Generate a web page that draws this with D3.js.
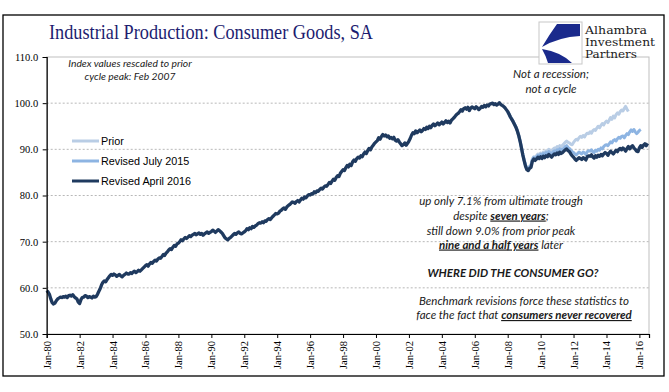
<!DOCTYPE html>
<html><head><meta charset="utf-8">
<script src="https://cdn.jsdelivr.net/npm/d3@7"></script>
<style>
html,body{margin:0;padding:0;background:#fff;}
svg{display:block;}
</style></head>
<body>
<svg id="c" width="669" height="392"></svg>
<script>
// ---------- DATA ----------
const seriesNames = ["Prior", "Revised July 2015", "Revised April 2016"];
const yTicks = [50, 60, 70, 80, 90, 100, 110];
const xTickYears = [1980,1982,1984,1986,1988,1990,1992,1994,1996,1998,2000,2002,2004,2006,2008,2010,2012,2014,2016];

// Revised April 2016, monthly from Jan 1980
const revApr2016Start = [1980, 0];
const revApr2016 = [
 59.4,59.1,58.6,57.6,56.8,56.5,56.7,57.2,57.6,57.8,58.0,57.9,
 58.1,58.0,58.2,57.9,58.3,58.4,58.2,58.5,58.1,57.8,57.6,56.9,
 56.6,57.5,57.9,58.0,58.3,58.2,57.9,58.1,58.0,57.8,58.2,58.0,
 58.1,58.6,59.2,59.8,60.6,61.2,61.5,61.3,61.8,62.2,62.6,62.9,
 62.7,63.0,62.8,62.5,62.7,62.9,62.6,62.4,62.7,62.9,63.2,63.0,
 63.0,63.3,63.1,63.4,63.6,63.3,63.5,63.8,63.6,63.9,64.2,64.5,
 64.8,65.0,64.7,65.2,65.5,65.3,65.7,66.0,65.8,66.2,66.5,66.4,
 66.8,67.2,67.0,67.5,67.8,68.2,68.5,68.3,68.8,69.2,69.0,69.5,
 69.7,70.0,70.4,70.2,70.6,70.9,70.7,71.0,71.3,71.1,71.4,71.6,
 71.8,71.5,71.7,71.9,71.6,71.8,71.4,71.7,71.9,72.1,71.8,72.0,
 72.2,72.5,72.3,72.0,72.3,72.6,72.4,72.1,71.8,71.3,70.8,70.6,
 70.4,70.7,70.9,71.2,71.5,71.8,71.6,71.9,72.1,71.8,71.7,71.9,
 72.1,72.4,72.8,72.6,73.0,72.8,73.3,73.1,73.4,73.6,73.9,74.1,
 74.0,74.3,74.1,74.5,74.4,74.8,75.0,74.8,75.2,75.5,75.8,76.1,
 76.0,76.2,76.6,76.8,77.1,77.3,77.0,77.5,77.8,78.0,78.3,78.6,
 78.5,78.3,78.7,78.9,78.6,79.0,79.4,79.2,79.7,79.5,79.9,80.2,
 80.1,80.4,80.3,80.8,80.6,81.0,80.9,81.3,81.6,81.4,81.8,82.1,
 82.0,82.4,82.8,82.6,83.1,83.5,83.3,83.9,84.3,84.1,84.8,85.2,
 85.6,85.4,86.0,86.5,86.2,86.8,86.5,87.3,87.7,87.4,88.0,88.3,
 88.1,88.6,88.4,89.0,89.4,89.1,89.7,90.2,89.9,90.5,90.9,91.3,
 91.6,91.9,92.5,92.2,92.8,93.2,92.9,93.1,92.7,92.9,92.4,92.6,
 92.3,92.6,92.0,91.8,92.1,91.6,91.2,90.8,91.0,91.4,90.9,91.3,
 91.8,92.4,93.1,93.6,93.4,94.0,93.6,93.9,94.2,93.8,94.1,94.5,
 94.3,94.8,94.5,95.0,94.7,95.2,95.5,95.1,95.4,95.7,95.3,95.6,
 95.9,95.5,95.8,96.2,95.8,96.1,95.7,96.3,96.6,96.9,97.3,97.6,
 97.8,98.2,98.6,98.3,98.8,99.0,98.7,99.1,98.4,98.9,99.2,99.0,
 98.8,99.2,99.0,98.6,98.9,99.3,99.1,99.5,99.2,99.6,99.4,99.8,
 99.9,100.0,99.7,99.9,99.6,99.8,100.1,99.7,99.5,99.3,99.0,98.6,
 98.2,97.6,97.0,96.5,96.0,95.4,94.8,94.0,93.0,91.8,90.3,88.8,
 87.5,86.3,85.6,85.4,85.9,86.1,87.4,87.9,87.6,87.9,88.3,88.0,
 88.4,88.0,88.5,88.2,88.6,88.4,88.9,88.6,88.3,88.7,89.0,88.8,
 89.2,88.9,89.4,89.1,89.3,89.6,89.9,90.1,89.7,89.5,89.0,88.6,
 88.3,87.9,87.6,87.9,88.2,88.0,87.8,88.2,88.0,87.7,88.4,88.6,
 88.5,88.8,88.4,88.1,88.6,88.3,88.7,88.5,88.9,88.6,89.0,89.3,
 89.1,88.7,89.2,89.6,89.3,89.0,89.4,89.8,89.5,90.0,90.2,89.9,
 90.3,90.0,89.6,90.2,90.6,90.1,90.5,90.8,90.3,90.0,89.6,89.5,
 90.3,90.8,90.4,90.9,91.2,90.8,91.3
];

// Revised July 2015, monthly from Jan 2008 (earlier months lie under the dark line)
const revJul2015Start = [2008, 0];
const revJul2015 = [
 98.1,97.6,97.0,96.5,96.0,95.4,94.8,94.0,93.0,91.8,90.4,88.9,
 87.6,86.5,85.8,85.7,86.2,86.4,87.7,88.2,88.0,88.3,88.7,88.5,
 88.9,88.6,89.1,88.8,89.3,89.0,89.5,89.2,89.0,89.4,89.7,89.5,
 89.9,89.6,90.1,89.8,90.0,90.3,90.6,90.8,90.4,90.2,89.8,89.5,
 89.3,89.0,88.8,89.1,89.4,89.2,89.0,89.4,89.2,88.9,89.5,89.7,
 89.6,89.9,89.5,89.3,89.8,89.6,90.0,89.8,90.3,90.1,90.6,90.9,
 91.0,90.8,91.2,91.6,91.4,91.9,92.1,91.8,92.3,92.6,92.4,92.8,
 92.9,92.5,93.0,93.4,93.2,93.8,94.2,93.9,94.3,93.8,93.4,93.7,
 94.1,94.3
];

// Prior, monthly from Jan 2008
const priorStart = [2008, 0];
const prior = [
 98.2,97.7,97.1,96.6,96.1,95.5,94.9,94.2,93.1,91.9,90.5,89.0,
 87.7,86.6,86.0,85.9,86.4,86.7,87.9,88.4,88.3,88.6,89.0,88.8,
 89.2,88.9,89.4,89.2,89.7,89.5,90.0,89.8,89.6,90.0,90.3,90.2,
 90.6,90.3,90.8,90.6,90.9,91.2,91.5,91.8,91.5,91.4,91.1,91.0,
 91.5,91.9,92.2,92.0,92.5,92.8,92.6,93.0,92.7,93.2,93.5,93.4,
 93.8,93.5,94.0,94.3,94.1,94.6,95.0,94.7,95.2,95.6,95.3,95.8,
 96.1,95.8,96.3,96.9,96.5,97.2,96.8,97.5,97.9,97.6,98.2,98.5,
 98.3,98.9,99.3,98.7,98.2
];

// ---------- CHART ----------
const svg = d3.select("#c");
const plot = {left: 46.7, right: 649, top: 57, bottom: 334};

const x = d3.scaleTime()
  .domain([new Date(1980,0,1), new Date(2016,7,1)])
  .range([plot.left, plot.right]);
const y = d3.scaleLinear().domain([50,110]).range([plot.bottom, plot.top]);

const toPts = (vals, start) => vals.map((v,i)=>({d:new Date(start[0], start[1]+i, 1), v}));

// outer frame
svg.append("rect").attr("x",3).attr("y",15).attr("width",661).attr("height",361)
  .attr("fill","#fff").attr("stroke","#000").attr("stroke-width",1.3);

// gridlines
svg.append("g").selectAll("line").data(yTicks.filter(t=>t>50 && t<110)).join("line")
  .attr("x1",plot.left).attr("x2",plot.right)
  .attr("y1",d=>y(d)).attr("y2",d=>y(d))
  .attr("stroke","#a6a6a6").attr("stroke-width",0.8).attr("stroke-dasharray","2,2");

// plot-area border (light)
svg.append("rect").attr("x",plot.left).attr("y",plot.top)
  .attr("width",plot.right-plot.left).attr("height",plot.bottom-plot.top)
  .attr("fill","none").attr("stroke","#bfbfbf").attr("stroke-width",1);

// lines
const line = d3.line().x(d=>x(d.d)).y(d=>y(d.v));
const colors = {"Prior":"#b9cde5","Revised July 2015":"#8db4e2","Revised April 2016":"#1f3a5f"};
svg.append("path").datum(toPts(prior,priorStart)).attr("d",line)
  .attr("fill","none").attr("stroke",colors["Prior"]).attr("stroke-width",3).attr("stroke-linejoin","round");
svg.append("path").datum(toPts(revJul2015,revJul2015Start)).attr("d",line)
  .attr("fill","none").attr("stroke",colors["Revised July 2015"]).attr("stroke-width",3).attr("stroke-linejoin","round");
svg.append("path").datum(toPts(revApr2016,revApr2016Start)).attr("d",line)
  .attr("fill","none").attr("stroke",colors["Revised April 2016"]).attr("stroke-width",3.3).attr("stroke-linejoin","round");

// axes
const yAxis = d3.axisLeft(y).tickValues(yTicks).tickSize(4).tickFormat(d3.format(".1f"));
const gy = svg.append("g").attr("transform",`translate(${plot.left},0)`).call(yAxis);
gy.select(".domain").attr("stroke","#000").attr("stroke-width",1.2);
gy.selectAll(".tick line").attr("stroke","#000");
gy.selectAll("text").attr("font-family","'Liberation Serif', serif").attr("font-size",10.5).attr("fill","#000").attr("x",-8.5);

const xAxis = d3.axisBottom(x).tickValues(xTickYears.map(yv=>new Date(yv,0,1))).tickSize(4)
  .tickFormat(d=>"Jan-"+String(d.getFullYear()).slice(2));
const gx = svg.append("g").attr("transform",`translate(0,${plot.bottom})`).call(xAxis);
gx.select(".domain").attr("stroke","#000").attr("stroke-width",1.2);
gx.selectAll(".tick line").attr("stroke","#000");
gx.selectAll("text").attr("font-family","'Liberation Serif', serif").attr("font-size",10.5).attr("fill","#000")
  .attr("transform","rotate(-90)").attr("text-anchor","end").attr("x",-7).attr("y",0).attr("dy","0.33em");

// title
svg.append("text").attr("x",49).attr("y",39).text("Industrial Production: Consumer Goods, SA")
  .attr("font-family","'Liberation Serif', serif").attr("font-size",21.5).attr("fill","#1c1c70")
  .attr("textLength",324).attr("lengthAdjust","spacingAndGlyphs");

// logo
const logo = svg.append("g");
logo.append("rect").attr("x",539).attr("y",22).attr("width",43).attr("height",42).attr("fill","#fff").attr("stroke","#c8c8c8").attr("stroke-width",1);
logo.append("path").attr("d","M580,24 L557,24 Q549,35 542,47 Q559,37 580,36 Z").attr("fill","#1a2a8c");
logo.append("path").attr("d","M542,49 Q561,52 572,63 L548,63 Q546,56 542,49 Z").attr("fill","#1a2a8c");
[["Alhambra",33.5,62],["Investment",45.8,70],["Partners",58,52]].forEach(([t,yy,w])=>{
  logo.append("text").attr("x",585).attr("y",yy).text(t)
   .attr("font-family","'DejaVu Serif', serif").attr("font-size",11.3).attr("fill","#1a1a1a")
   .attr("textLength",w).attr("lengthAdjust","spacingAndGlyphs");
});

// legend
const legY = [141, 161, 181];
seriesNames.forEach((n,i)=>{
  svg.append("line").attr("x1",72).attr("x2",99).attr("y1",legY[i]).attr("y2",legY[i])
    .attr("stroke",colors[n]).attr("stroke-width",3);
  svg.append("text").attr("x",101).attr("y",legY[i]).attr("dy","0.35em").text(n)
    .attr("font-family","'Liberation Sans', Arial, sans-serif").attr("font-size",10.8).attr("fill","#000");
});

// annotations
const annFont = "Lato, 'Open Sans', sans-serif";
function ann(xc, yb, parts, size){
  const t = svg.append("text").attr("x",xc).attr("y",yb).attr("text-anchor","middle")
    .attr("font-family",annFont).attr("font-size",size||11.5).attr("font-style","italic").attr("fill","#1a1a1a");
  parts.forEach(p=>{
    const s = t.append("tspan").text(p.t);
    if(p.b) s.attr("font-weight","bold");
    if(p.u) s.attr("text-decoration","underline");
  });
  return t;
}
ann(130, 67, [{t:"Index values rescaled to prior"}], 10.3);
ann(130, 80, [{t:"cycle peak: Feb 2007"}], 10.3);
ann(551, 78, [{t:"Not a recession;"}], 11.5);
ann(551, 93, [{t:"not a cycle"}], 11.5);
ann(501, 205, [{t:"up only 7.1% from ultimate trough"}]);
ann(501, 219.5, [{t:"despite "},{t:"seven years",b:1,u:1},{t:";"}]);
ann(501, 235, [{t:"still down 9.0% from prior peak"}]);
ann(501, 248.5, [{t:"nine and a half years",b:1,u:1},{t:" later"}]);
ann(513, 277, [{t:"WHERE DID THE CONSUMER GO?",b:1}]);
ann(524, 305, [{t:"Benchmark revisions force these statistics to"}]);
ann(524, 319, [{t:"face the fact that  "},{t:"consumers never recovered",b:1,u:1}]);
</script>
</body></html>
